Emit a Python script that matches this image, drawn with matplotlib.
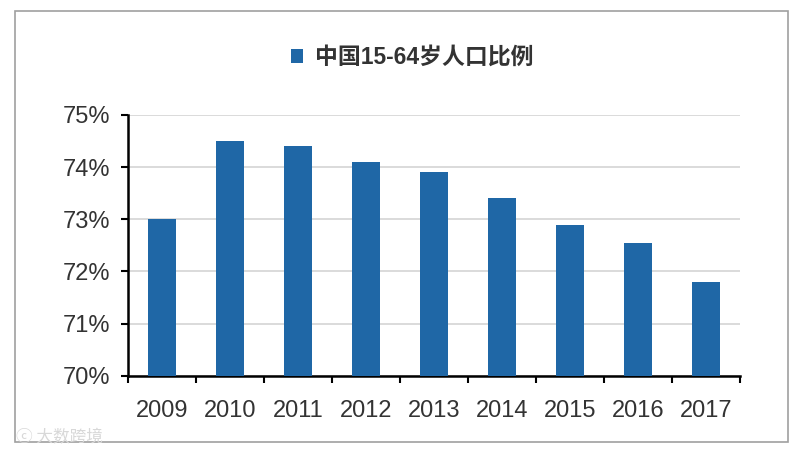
import numpy as np
import matplotlib
matplotlib.use('Agg')
import matplotlib.pyplot as plt
from matplotlib.patches import Rectangle

plt.rcParams['font.family'] = ['Liberation Sans', 'Noto Sans CJK SC']

# 数据：中国15-64岁人口比例 (%)
years = ['2009', '2010', '2011', '2012', '2013', '2014', '2015', '2016', '2017']
ratio = [73.0, 74.5, 74.4, 74.1, 73.9, 73.4, 72.9, 72.55, 71.8]
series_name = '中国15-64岁人口比例'
y_ticks = [70, 71, 72, 73, 74, 75]

bar_color = '#1F67A6'
text_color = '#333333'

fig = plt.figure(figsize=(8, 4.54), dpi=100)
ax = fig.add_axes([0.16, 0.172, 0.765, 0.575])

x = np.arange(len(years))
ax.bar(x, ratio, width=0.4, color=bar_color, label=series_name, zorder=3)

ax.set_xlim(-0.5, len(years) - 0.5)
ax.set_ylim(70, 75)
ax.set_yticks(y_ticks)
ax.set_yticklabels([f'{v}%' for v in y_ticks])
ax.set_xticks(x)
ax.set_xticklabels(years)
ax.set_xticks(np.arange(len(years) + 1) - 0.5, minor=True)

ax.tick_params(axis='x', which='major', length=0, pad=17,
               labelsize=17, labelcolor=text_color)
ax.tick_params(axis='x', which='minor', length=5, width=1.5, direction='out')
ax.tick_params(axis='y', length=5, width=1.5, direction='out', pad=8,
               labelsize=17, labelcolor=text_color)

ax.grid(axis='y', color='#d4d4d4', linewidth=1.2, zorder=0)
for s in ['top', 'right']:
    ax.spines[s].set_visible(False)
for s in ['left', 'bottom']:
    ax.spines[s].set_linewidth(1.8)
    ax.spines[s].set_color('black')

# 图例放在顶部当作标题
fig.legend(loc='center', bbox_to_anchor=(0.515, 0.874), frameon=False,
           handlelength=0.55, handleheight=0.55, handletextpad=0.5,
           prop={'size': 16.5, 'weight': 'bold'}, labelcolor=text_color)

# 外框
fig.patches.append(Rectangle((0.019, 0.026), 0.966, 0.949, transform=fig.transFigure,
                             fill=False, edgecolor='#a0a0a0', linewidth=1.2))

# 水印
fig.text(0.02, 0.025, 'ⓒ 大数跨境', fontsize=12, color='#d8d8d8',
         family=['Noto Sans CJK SC', 'DejaVu Sans'])

fig.savefig('out.png', dpi=100)
